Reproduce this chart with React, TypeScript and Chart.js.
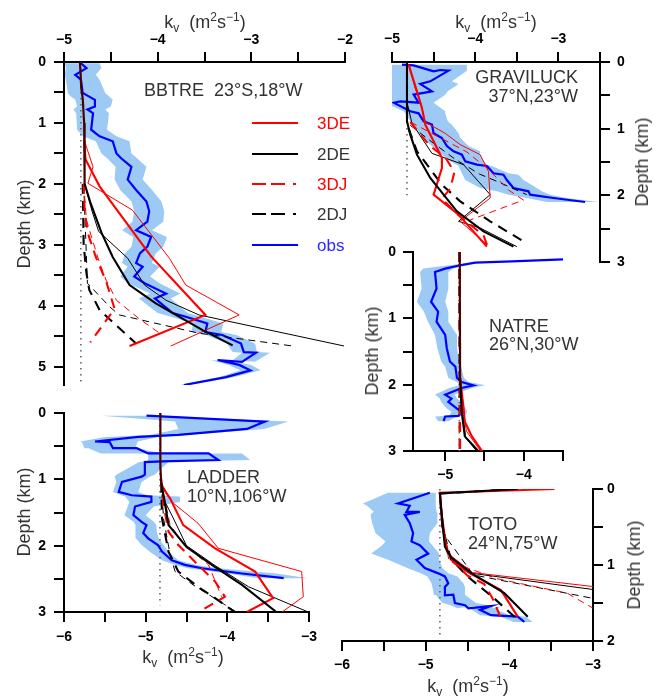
import React, { useEffect, useRef } from 'react';
import { Chart, registerables } from 'chart.js';
Chart.register(...registerables);

type Pt = [number, number]; // [log10 kv, depth km]

const W = 659;
const H = 696;
const AX = 40;
const FONT = '"Liberation Sans", Arial, Helvetica, sans-serif';
const RED = '#ff0000';
const BLACK = '#000000';
const BLUE = '#0000ff';
const MAROON = '#4a0000';
const BAND = '#9dcaf5';
const DOT = '#666666';
const TXT = '#333333';

// ---------- tick values ----------
const bbtreXTicks = [-5, -4.5, -4, -3.5, -3, -2.5, -2];
const bbtreYTicks = [0, 0.5, 1, 1.5, 2, 2.5, 3, 3.5, 4, 4.5, 5];
const gravXTicks = [-5, -4.5, -4, -3.5, -3, -2.5];
const gravYTicks = [0, 0.5, 1, 1.5, 2, 2.5, 3];
const natreXTicks = [-5, -4.5, -4, -3.5];
const natreYTicks = [0, 0.5, 1, 1.5, 2, 2.5, 3];
const ladderXTicks = [-6, -5.5, -5, -4.5, -4, -3.5, -3];
const ladderYTicks = [0, 0.5, 1, 1.5, 2, 2.5, 3];
const totoXTicks = [-6, -5.5, -5, -4.5, -4, -3.5, -3];
const totoYTicks = [0, 0.5, 1, 1.5, 2];

// ---------- BBTRE ----------
const bbtreObs: Pt[] = [[-4.82,0.02],[-4.76,0.10],[-4.88,0.21],[-4.82,0.29],[-4.80,0.51],[-4.74,0.56],[-4.67,0.62],[-4.67,0.73],[-4.75,0.78],[-4.69,0.84],[-4.71,1.11],[-4.62,1.22],[-4.48,1.30],[-4.44,1.50],[-4.39,1.58],[-4.28,1.72],[-4.32,1.93],[-4.23,2.10],[-4.12,2.29],[-4.09,2.45],[-4.11,2.62],[-4.23,2.76],[-4.07,2.87],[-4.11,3.03],[-4.19,3.14],[-4.23,3.30],[-4.16,3.36],[-4.25,3.52],[-4.14,3.63],[-3.91,3.80],[-4.03,3.88],[-3.84,4.12],[-3.70,4.18],[-3.47,4.29],[-3.49,4.43],[-3.31,4.48],[-3.11,4.62],[-3.08,4.76],[-2.95,4.77],[-3.10,4.92],[-3.36,4.89],[-3.13,4.97],[-3.01,5.06],[-3.27,5.17],[-3.72,5.30]];
const bbtreObsLo = [-4.99,-4.98,-4.99,-4.98,-4.96,-4.93,-4.88,-4.86,-4.90,-4.87,-4.86,-4.80,-4.66,-4.60,-4.54,-4.45,-4.46,-4.40,-4.28,-4.25,-4.27,-4.38,-4.26,-4.28,-4.35,-4.38,-4.32,-4.40,-4.32,-4.08,-4.20,-4.00,-3.86,-3.62,-3.64,-3.48,-3.26,-3.20,-3.10,-3.22,-3.44,-3.24,-3.12,-3.34,-3.76];
const bbtreObsHi = [-4.62,-4.60,-4.66,-4.62,-4.56,-4.52,-4.48,-4.50,-4.56,-4.52,-4.54,-4.44,-4.30,-4.28,-4.22,-4.12,-4.16,-4.06,-3.96,-3.93,-3.94,-4.06,-3.90,-3.94,-4.02,-4.06,-3.98,-4.08,-3.98,-3.76,-3.86,-3.68,-3.54,-3.30,-3.32,-3.16,-2.96,-2.94,-2.80,-2.96,-3.26,-3.00,-2.90,-3.18,-3.66];
const bbtreBg: Pt[] = [[-4.82,0],[-4.82,5.3]];
const bbtreCommon: Pt[] = [[-4.83,0],[-4.815,0.44],[-4.80,0.6],[-4.785,1.0],[-4.78,2.0]];
const bbtre3DEThick: Pt[] = [[-4.785,1.28],[-4.77,1.6],[-4.62,2.04],[-4.07,3.19],[-3.49,4.15],[-4.30,4.66]];
const bbtre3DEThin: Pt[] = [[-4.785,1.28],[-4.69,1.72],[-4.745,1.99],[-4.27,2.43],[-3.875,3.22],[-3.70,3.66],[-3.13,4.15],[-3.86,4.66]];
const bbtre2DEThick: Pt[] = [[-4.78,2.0],[-4.72,2.3],[-4.60,2.8],[-4.48,3.2],[-4.30,3.66],[-4.02,3.96],[-3.52,4.40],[-3.20,4.65]];
const bbtre2DEThin: Pt[] = [[-4.78,2.0],[-4.70,2.45],[-4.63,2.78],[-4.32,3.22],[-4.14,3.66],[-3.91,3.91],[-3.56,4.15],[-2.01,4.66]];
const bbtre3DJThick: Pt[] = [[-4.79,2.0],[-4.78,2.43],[-4.745,2.81],[-4.66,3.2],[-4.55,3.6],[-4.46,4.05],[-4.72,4.6]];
const bbtre3DJThin: Pt[] = [[-4.79,2.0],[-4.76,2.6],[-4.62,3.3],[-4.55,3.58],[-4.44,3.91],[-4.20,4.21],[-3.98,4.45]];
const bbtre2DJThick: Pt[] = [[-4.80,2.0],[-4.79,3.0],[-4.76,3.47],[-4.73,3.74],[-4.62,4.07],[-4.23,4.62]];
const bbtre2DJThin: Pt[] = [[-4.79,2.0],[-4.75,3.63],[-4.51,4.02],[-4.41,4.15],[-3.56,4.45],[-2.56,4.66]];

// ---------- GRAVILUCK ----------
const gravObs: Pt[] = [[-4.88,0.04],[-4.74,0.05],[-4.50,0.14],[-4.42,0.12],[-4.32,0.13],[-4.54,0.29],[-4.66,0.33],[-4.52,0.44],[-4.74,0.49],[-4.68,0.61],[-4.90,0.59],[-4.98,0.61],[-4.78,0.74],[-4.68,0.77],[-4.62,0.89],[-4.52,0.94],[-4.50,1.07],[-4.40,1.14],[-4.34,1.26],[-4.26,1.34],[-4.16,1.39],[-4.12,1.49],[-3.98,1.54],[-3.86,1.56],[-3.78,1.67],[-3.66,1.69],[-3.62,1.77],[-3.54,1.89],[-3.36,1.94],[-3.34,1.99],[-3.06,2.04],[-2.68,2.10]];
const gravObsLo = [-5.1,-5.1,-5.1,-5.1,-5.1,-5.1,-5.1,-5.1,-5.1,-5.1,-5.1,-5.1,-4.86,-4.84,-4.78,-4.74,-4.68,-4.62,-4.52,-4.45,-4.40,-4.30,-4.22,-4.20,-4.16,-4.15,-4.12,-3.94,-3.74,-3.60,-3.38,-3.14];
const gravObsHi = [-4.10,-4.10,-4.10,-4.10,-4.10,-4.28,-4.20,-4.33,-4.36,-4.50,-4.50,-4.50,-4.36,-4.36,-4.33,-4.28,-4.20,-4.18,-4.08,-3.94,-3.94,-3.90,-3.86,-3.80,-3.60,-3.48,-3.42,-3.26,-3.20,-3.10,-2.90,-2.52];
const gravBg: Pt[] = [[-4.82,0],[-4.82,2.0]];
const grav3DEThick: Pt[] = [[-4.80,0.04],[-4.70,0.44],[-4.64,0.69],[-4.60,0.94],[-4.50,1.19],[-4.40,1.44],[-4.40,1.59],[-4.50,1.99],[-4.20,2.29],[-3.86,2.77]];
const grav3DEThin: Pt[] = [[-4.80,0.04],[-4.72,0.40],[-4.66,0.59],[-4.60,0.90],[-4.36,1.07],[-4.18,1.24],[-3.94,1.39],[-3.84,1.64],[-3.82,2.04],[-4.18,2.39],[-3.86,2.74]];
const grav2DEThick: Pt[] = [[-4.82,0.0],[-4.82,0.89],[-4.78,1.09],[-4.70,1.39],[-4.54,1.74],[-4.22,2.24],[-3.90,2.54],[-3.54,2.77]];
const grav2DEThin: Pt[] = [[-4.82,0.6],[-4.76,0.92],[-4.52,1.37],[-4.14,1.54],[-3.82,1.99],[-4.20,2.39],[-3.94,2.49],[-3.50,2.77]];
const grav3DJThick: Pt[] = [[-4.78,0.9],[-4.55,1.25],[-4.35,1.45],[-4.25,1.65],[-4.30,1.90],[-4.40,2.05],[-4.20,2.30],[-3.90,2.60],[-3.85,2.77]];
const grav3DJThin: Pt[] = [[-4.78,0.9],[-4.40,1.15],[-4.10,1.35],[-3.85,1.60],[-3.60,1.92],[-3.42,2.07],[-4.06,2.37]];
const grav2DJThick: Pt[] = [[-4.80,1.0],[-4.70,1.34],[-4.40,1.84],[-4.18,2.09],[-3.82,2.39],[-3.38,2.72]];
const grav2DJThin: Pt[] = [[-4.78,0.95],[-4.52,1.20],[-4.25,1.45],[-3.95,1.68],[-3.72,1.80],[-3.38,1.99]];

// ---------- NATRE ----------
const natreObs: Pt[] = [[-3.50,0.11],[-4.15,0.14],[-4.62,0.16],[-4.81,0.20],[-5.00,0.25],[-5.13,0.30],[-5.11,0.55],[-5.18,0.75],[-5.09,0.90],[-5.11,1.05],[-5.00,1.25],[-4.98,1.45],[-4.94,1.65],[-4.87,1.73],[-4.85,1.90],[-4.79,1.96],[-4.64,2.01],[-4.79,2.05],[-5.00,2.15],[-4.92,2.21],[-4.96,2.26],[-4.85,2.36],[-4.79,2.41],[-4.83,2.47],[-5.00,2.48],[-5.02,2.55]];
const natreObsLo = [-3.50,-4.15,-4.66,-4.95,-5.28,-5.32,-5.30,-5.36,-5.27,-5.22,-5.13,-5.10,-5.05,-5.00,-4.96,-4.85,-4.82,-4.95,-5.13,-5.07,-5.05,-4.98,-4.92,-4.95,-5.13,-5.09];
const natreObsHi = [-3.50,-4.15,-4.58,-4.70,-4.90,-4.96,-4.96,-5.00,-4.96,-4.96,-4.85,-4.85,-4.82,-4.80,-4.76,-4.70,-4.49,-4.66,-4.88,-4.85,-4.79,-4.74,-4.72,-4.75,-4.85,-4.96];
const natreBg: Pt[] = [[-4.82,0],[-4.82,3.0]];
const natreCommon: Pt[] = [[-4.815,0],[-4.81,2.0]];
const natre3DEThick: Pt[] = [[-4.81,1.9],[-4.77,2.31],[-4.75,2.56],[-4.66,2.78],[-4.53,3.0]];
const natre3DEThin: Pt[] = [[-4.81,1.9],[-4.78,2.31],[-4.73,2.70],[-4.55,3.0]];
const natre2DEThick: Pt[] = [[-4.81,1.9],[-4.79,2.41],[-4.75,2.78],[-4.58,3.0]];
const natre2DEThin: Pt[] = [[-4.81,1.9],[-4.78,2.41],[-4.74,2.80],[-4.60,3.0]];
const natre3DJThick: Pt[] = [[-4.815,0],[-4.81,3.0]];
const natre2DJThick: Pt[] = [[-4.82,0],[-4.815,3.0]];

// ---------- LADDER ----------
const ladderObs: Pt[] = [[-4.99,0.04],[-3.54,0.13],[-3.76,0.24],[-4.60,0.33],[-5.09,0.36],[-5.62,0.43],[-5.44,0.44],[-5.40,0.53],[-5.11,0.53],[-4.97,0.61],[-4.23,0.61],[-4.11,0.71],[-4.80,0.73],[-5.01,0.74],[-5.01,0.93],[-5.05,0.96],[-5.29,1.04],[-5.33,1.19],[-5.17,1.24],[-4.93,1.26],[-4.93,1.34],[-5.13,1.41],[-5.15,1.54],[-5.05,1.64],[-4.99,1.69],[-5.03,1.81],[-4.97,1.89],[-4.85,1.99],[-4.80,2.09],[-4.68,2.22],[-4.52,2.29],[-4.31,2.34],[-3.82,2.42],[-3.31,2.49]];
const ladderObsLo = [-5.54,-4.64,-4.60,-4.95,-5.50,-5.80,-5.78,-5.75,-5.70,-5.55,-4.97,-4.97,-5.00,-5.08,-5.36,-5.38,-5.36,-5.40,-5.30,-5.25,-5.20,-5.22,-5.26,-5.15,-5.13,-5.12,-5.12,-5.05,-4.95,-4.80,-4.64,-4.48,-4.00,-3.62];
const ladderObsHi = [-4.95,-3.25,-3.55,-4.50,-4.85,-5.10,-5.10,-5.13,-5.10,-4.80,-3.82,-3.72,-4.70,-4.72,-4.89,-4.95,-5.05,-5.09,-4.98,-4.58,-4.58,-4.90,-5.00,-4.90,-4.87,-4.86,-4.84,-4.78,-4.72,-4.60,-4.38,-4.10,-3.40,-3.01];
const ladderBg: Pt[] = [[-4.825,0],[-4.825,2.9]];
const ladderCommon: Pt[] = [[-4.82,0],[-4.82,0.8],[-4.81,1.05]];
const ladder3DEThick: Pt[] = [[-4.81,1.05],[-4.81,1.09],[-4.70,1.29],[-4.54,1.69],[-4.15,2.04],[-3.66,2.39],[-3.44,2.79],[-3.76,3.0]];
const ladder3DEThin: Pt[] = [[-4.81,1.05],[-4.68,1.34],[-4.36,1.66],[-4.11,2.04],[-3.09,2.39],[-3.07,2.77],[-3.33,3.0]];
const ladder2DEThick: Pt[] = [[-4.81,1.05],[-4.76,1.39],[-4.72,1.69],[-4.50,2.02],[-4.19,2.29],[-3.82,2.59],[-3.40,3.0]];
const ladder2DEThin: Pt[] = [[-4.81,1.05],[-4.78,1.30],[-4.68,1.54],[-4.50,2.0],[-4.15,2.30],[-3.74,2.62],[-3.01,3.0]];
const ladder3DJThick: Pt[] = [[-4.81,1.0],[-4.78,1.39],[-4.72,1.79],[-4.60,1.99],[-4.40,2.24],[-4.15,2.54],[-4.03,2.77],[-4.31,2.97]];
const ladder3DJThin: Pt[] = [[-4.81,1.05],[-4.70,1.69],[-4.52,1.99],[-4.23,2.29],[-4.07,2.77]];
const ladder2DJThick: Pt[] = [[-4.81,1.05],[-4.80,1.59],[-4.72,2.09],[-4.60,2.39],[-4.36,2.62],[-4.15,2.79],[-3.91,3.0]];
const ladder2DJThin: Pt[] = [[-4.81,1.05],[-4.78,1.60],[-4.70,2.14],[-4.64,2.39],[-4.42,2.59],[-4.03,2.89],[-3.89,3.0]];

// ---------- TOTO ----------
const totoObs: Pt[] = [[-4.95,0.05],[-5.33,0.19],[-5.19,0.22],[-5.23,0.30],[-5.07,0.30],[-5.25,0.34],[-5.19,0.45],[-5.15,0.58],[-5.17,0.69],[-5.07,0.74],[-4.97,0.85],[-5.11,0.93],[-5.01,1.04],[-4.85,1.11],[-4.77,1.15],[-4.73,1.24],[-4.77,1.29],[-4.77,1.40],[-4.67,1.39],[-4.65,1.50],[-4.53,1.53],[-4.49,1.57],[-4.22,1.54],[-4.35,1.59],[-4.22,1.66],[-3.90,1.68],[-3.82,1.75]];
const totoObsLo = [-5.45,-5.75,-5.70,-5.62,-5.62,-5.66,-5.64,-5.60,-5.48,-5.52,-5.65,-5.45,-5.22,-5.06,-4.98,-4.93,-4.92,-4.90,-4.88,-4.80,-4.70,-4.62,-4.40,-4.45,-4.35,-4.10,-3.95];
const totoObsHi = [-4.88,-4.88,-4.88,-4.87,-4.86,-4.86,-4.86,-4.95,-4.96,-4.92,-4.84,-4.84,-4.80,-4.73,-4.62,-4.55,-4.53,-4.53,-4.53,-4.40,-4.25,-4.18,-4.10,-4.15,-4.00,-3.80,-3.72];
const totoBg: Pt[] = [[-4.83,0],[-4.83,1.95]];
const toto3DEThick: Pt[] = [[-3.46,0],[-4.83,0.05],[-4.81,0.32],[-4.75,0.80],[-4.65,0.98],[-4.47,1.11],[-4.10,1.33],[-3.90,1.68]];
const toto2DEThick: Pt[] = [[-3.90,0],[-4.83,0.06],[-4.81,0.32],[-4.77,0.76],[-4.69,0.91],[-4.45,1.11],[-4.06,1.37],[-3.78,1.68]];
const toto3DEThin: Pt[] = [[-4.83,0.05],[-4.79,0.50],[-4.73,0.85],[-4.44,1.10],[-2.95,1.29]];
const toto2DEThin: Pt[] = [[-4.83,0.05],[-4.80,0.50],[-4.74,0.85],[-4.44,1.11],[-2.95,1.33]];
const toto3DJThick: Pt[] = [[-4.83,0.05],[-4.80,0.50],[-4.72,0.90],[-4.50,1.14],[-4.30,1.25],[-4.20,1.44],[-4.10,1.70]];
const toto2DJThick: Pt[] = [[-3.90,0],[-4.83,0.06],[-4.80,0.50],[-4.70,0.92],[-4.50,1.15],[-4.18,1.44],[-3.90,1.72]];
const toto3DJThin: Pt[] = [[-4.83,0.05],[-4.78,0.60],[-4.72,0.95],[-4.15,1.18],[-3.31,1.37],[-2.95,1.60]];
const toto2DJThin: Pt[] = [[-4.83,0.05],[-4.78,0.60],[-4.43,1.13],[-2.95,1.45]];

// ---------- styling helpers ----------
type Kind = '3DE' | '2DE' | '3DJ' | '2DJ';
interface ModelLine { pts: Pt[]; kind: Kind; thick: boolean }
const m = (pts: Pt[], kind: Kind, thick: boolean): ModelLine => ({ pts, kind, thick });

interface PanelDef {
  key: string;
  area: [number, number, number, number];
  xMin: number; xMax: number; yMax: number;
  xPos: 'top' | 'bottom'; yPos: 'left' | 'right';
  xTicks: number[]; yTicks: number[];
  xPad: number; yPad: number;
  obs: Pt[]; lo: number[]; hi: number[];
  bg: Pt[]; common?: Pt[];
  models: ModelLine[];
}

const panels: PanelDef[] = [
  {
    key: 'bbtre', area: [64, 62, 345, 385], xMin: -5, xMax: -2, yMax: 5.3, xPos: 'top', yPos: 'left',
    xTicks: bbtreXTicks, yTicks: bbtreYTicks, xPad: 3, yPad: 8,
    obs: bbtreObs, lo: bbtreObsLo, hi: bbtreObsHi, bg: bbtreBg, common: bbtreCommon,
    models: [m(bbtre2DJThin, '2DJ', false), m(bbtre3DJThin, '3DJ', false), m(bbtre2DEThin, '2DE', false), m(bbtre3DEThin, '3DE', false),
      m(bbtre2DJThick, '2DJ', true), m(bbtre3DJThick, '3DJ', true), m(bbtre3DEThick, '3DE', true), m(bbtre2DEThick, '2DE', true)],
  },
  {
    key: 'grav', area: [392, 62, 600, 262], xMin: -5, xMax: -2.5, yMax: 3, xPos: 'top', yPos: 'right',
    xTicks: gravXTicks, yTicks: gravYTicks, xPad: 4, yPad: 7,
    obs: gravObs, lo: gravObsLo, hi: gravObsHi, bg: gravBg,
    models: [m(grav2DJThin, '2DJ', false), m(grav3DJThin, '3DJ', false), m(grav2DEThin, '2DE', false), m(grav3DEThin, '3DE', false),
      m(grav2DJThick, '2DJ', true), m(grav3DJThick, '3DJ', true), m(grav3DEThick, '3DE', true), m(grav2DEThick, '2DE', true)],
  },
  {
    key: 'natre', area: [413, 252, 563, 451], xMin: -5.41, xMax: -3.5, yMax: 3, xPos: 'bottom', yPos: 'left',
    xTicks: natreXTicks, yTicks: natreYTicks, xPad: 6, yPad: 7,
    obs: natreObs, lo: natreObsLo, hi: natreObsHi, bg: natreBg, common: natreCommon,
    models: [m(natre2DEThin, '2DE', false), m(natre3DEThin, '3DE', false),
      m(natre2DJThick, '2DJ', true), m(natre3DJThick, '3DJ', true), m(natre3DEThick, '3DE', true), m(natre2DEThick, '2DE', true)],
  },
  {
    key: 'ladder', area: [64, 413, 309, 612], xMin: -6, xMax: -3, yMax: 3, xPos: 'bottom', yPos: 'left',
    xTicks: ladderXTicks, yTicks: ladderYTicks, xPad: 7, yPad: 8,
    obs: ladderObs, lo: ladderObsLo, hi: ladderObsHi, bg: ladderBg, common: ladderCommon,
    models: [m(ladder2DJThin, '2DJ', false), m(ladder3DJThin, '3DJ', false), m(ladder2DEThin, '2DE', false), m(ladder3DEThin, '3DE', false),
      m(ladder2DJThick, '2DJ', true), m(ladder3DJThick, '3DJ', true), m(ladder3DEThick, '3DE', true), m(ladder2DEThick, '2DE', true)],
  },
  {
    key: 'toto', area: [342, 489, 593, 641], xMin: -6, xMax: -3, yMax: 2, xPos: 'bottom', yPos: 'right',
    xTicks: totoXTicks, yTicks: totoYTicks, xPad: 6, yPad: 4,
    obs: totoObs, lo: totoObsLo, hi: totoObsHi, bg: totoBg,
    models: [m(toto2DJThin, '2DJ', false), m(toto3DJThin, '3DJ', false), m(toto2DEThin, '2DE', false), m(toto3DEThin, '3DE', false),
      m(toto2DJThick, '2DJ', true), m(toto3DJThick, '3DJ', true), m(toto3DEThick, '3DE', true), m(toto2DEThick, '2DE', true)],
  },
];

const fmt = (v: number) => {
  const r = Math.round(v);
  if (Math.abs(v - r) > 1e-6) return '';
  return r < 0 ? '\u2212' + Math.abs(r) : String(r);
};

const toXY = (pts: Pt[]) => pts.map((p) => ({ x: p[0], y: p[1] }));

function lineDs(pts: Pt[], color: string, width: number, dash: number[], order: number) {
  return {
    data: toXY(pts), borderColor: color, borderWidth: width, borderDash: dash,
    pointRadius: 0, pointHoverRadius: 0, fill: false, tension: 0, order,
    borderCapStyle: 'butt', borderJoinStyle: 'miter',
  };
}

function axis(ticksList: number[], pad: number, horizontal: boolean) {
  return {
    type: 'linear',
    grid: { drawOnChartArea: false, drawTicks: true, tickLength: 10, lineWidth: 2, color: '#000', tickColor: '#000', tickWidth: 2 },
    border: { display: true, color: '#000', width: 2 },
    ticks: {
      autoSkip: false, maxRotation: 0, minRotation: 0, padding: pad, color: '#000',
      font: { family: FONT, size: 14, weight: 'bold' },
      callback: (v: any) => fmt(Number(v)),
    },
    afterBuildTicks: (s: any) => { s.ticks = ticksList.map((v) => ({ value: v })); },
    afterFit: (s: any) => {
      if (horizontal) s.height = AX; else s.width = AX;
      s.paddingLeft = 0; s.paddingRight = 0; s.paddingTop = 0; s.paddingBottom = 0;
    },
  };
}

function buildConfig(p: PanelDef): any {
  const [l, t, r, b] = p.area;
  const padding = {
    left: l - (p.yPos === 'left' ? AX : 0),
    right: W - r - (p.yPos === 'right' ? AX : 0),
    top: t - (p.xPos === 'top' ? AX : 0),
    bottom: H - b - (p.xPos === 'bottom' ? AX : 0),
  };
  const bandPts = [
    ...p.obs.map((o, i) => ({ x: p.hi[i], y: o[1] })),
    ...p.obs.map((o, i) => ({ x: p.lo[i], y: o[1] })).reverse(),
  ];
  const datasets: any[] = [];
  datasets.push({
    data: bandPts, borderColor: 'rgba(0,0,0,0)', borderWidth: 0, backgroundColor: BAND,
    fill: 'shape', pointRadius: 0, tension: 0, order: 100,
  });
  datasets.push(lineDs(p.bg, DOT, 1.6, [1.6, 4.4], 90));
  datasets.push(lineDs(p.obs, BLUE, 2.2, [], 80));
  p.models.forEach((md, i) => {
    const color = md.kind[0] === '3' ? RED : BLACK;
    const dashed = md.kind[2] === 'J';
    const dash = dashed ? (md.thick ? [10, 7] : [7, 5]) : [];
    datasets.push(lineDs(md.pts, color, md.thick ? 2.1 : 1, dash, 50 - i));
  });
  if (p.common) datasets.push(lineDs(p.common, MAROON, 2.2, [], 1));

  const xAxis: any = axis(p.xTicks, p.xPad, true);
  xAxis.position = p.xPos; xAxis.min = p.xMin; xAxis.max = p.xMax;
  const yAxis: any = axis(p.yTicks, p.yPad, false);
  yAxis.position = p.yPos; yAxis.min = 0; yAxis.max = p.yMax; yAxis.reverse = true;

  return {
    type: 'line',
    data: { datasets },
    options: {
      animation: false, responsive: false, maintainAspectRatio: false, events: [],
      layout: { padding, autoPadding: false },
      plugins: { legend: { display: false }, tooltip: { enabled: false }, filler: { propagate: false } },
      scales: { x: xAxis, y: yAxis },
    },
  };
}

function PanelCanvas({ def }: { def: PanelDef }) {
  const ref = useRef<HTMLCanvasElement>(null);
  useEffect(() => {
    const c = ref.current;
    if (!c) return;
    const chart = new Chart(c, buildConfig(def));
    return () => chart.destroy();
  }, [def]);
  return (
    <canvas ref={ref} width={W} height={H}
      style={{ position: 'absolute', left: 0, top: 0, width: W, height: H, pointerEvents: 'none' }} />
  );
}

const baseText: React.CSSProperties = { position: 'absolute', whiteSpace: 'pre', lineHeight: 1, fontFamily: FONT };

function KvTitle({ x, y }: { x: number; y: number }) {
  const sup: React.CSSProperties = { fontSize: 12, verticalAlign: '7px', lineHeight: 0 };
  const sub: React.CSSProperties = { fontSize: 12, verticalAlign: '-4px', lineHeight: 0 };
  return (
    <div style={{ ...baseText, left: x, top: y, transform: 'translate(-50%,-50%)', fontSize: 18, color: TXT }}>
      k<span style={sub}>v</span>{'  '}(m<span style={sup}>2</span>s<span style={sup}>{'\u2212'}1</span>)
    </div>
  );
}

function DepthTitle({ x, y }: { x: number; y: number }) {
  return (
    <div style={{ ...baseText, left: x, top: y, transform: 'translate(-50%,-50%) rotate(-90deg)', fontSize: 18, color: TXT }}>
      Depth (km)
    </div>
  );
}

function Label({ x, y, text, right }: { x: number; y: number; text: string; right?: boolean }) {
  return (
    <div style={{ ...baseText, left: x, top: y, transform: right ? 'translate(-100%,-50%)' : 'translate(0,-50%)', fontSize: 18, color: TXT }}>
      {text}
    </div>
  );
}

const legendItems = [
  { label: '3DE', color: RED, dashed: false, y: 123 },
  { label: '2DE', color: BLACK, dashed: false, y: 154 },
  { label: '3DJ', color: RED, dashed: true, y: 184 },
  { label: '2DJ', color: BLACK, dashed: true, y: 214 },
  { label: 'obs', color: BLUE, dashed: false, y: 245 },
];

function Legend() {
  return (
    <>
      <svg width={60} height={160} style={{ position: 'absolute', left: 250, top: 110 }}>
        {legendItems.map((it) => (
          <line key={it.label} x1={2} x2={48} y1={it.y - 110} y2={it.y - 110} stroke={it.color} strokeWidth={2.1}
            strokeDasharray={it.dashed ? '14 5 14 8 3 100' : undefined} />
        ))}
      </svg>
      {legendItems.map((it) => (
        <div key={'t' + it.label} style={{ ...baseText, left: 317, top: it.y, transform: 'translate(0,-50%)', fontSize: 17,
          color: it.color === BLACK ? TXT : it.color === BLUE ? '#2a2aff' : RED }}>
          {it.label}
        </div>
      ))}
    </>
  );
}

export default function App() {
  useEffect(() => {
    document.body.style.margin = '0';
  }, []);
  return (
    <div style={{ position: 'relative', width: W, height: H, overflow: 'hidden', background: '#fff', fontFamily: FONT }}>
      {panels.map((p) => <PanelCanvas key={p.key} def={p} />)}
      <KvTitle x={205} y={22} />
      <KvTitle x={496} y={22} />
      <KvTitle x={183} y={657} />
      <KvTitle x={468} y={686} />
      <DepthTitle x={24} y={224} />
      <DepthTitle x={642} y={162} />
      <DepthTitle x={372} y={351} />
      <DepthTitle x={24} y={512} />
      <DepthTitle x={634} y={565} />
      <Label x={144} y={90} text={'BBTRE  23\u00b0S,18\u00b0W'} />
      <Label x={578} y={77} text="GRAVILUCK" right />
      <Label x={578} y={96} text={'37\u00b0N,23\u00b0W'} right />
      <Label x={489} y={326} text="NATRE" />
      <Label x={489} y={344} text={'26\u00b0N,30\u00b0W'} />
      <Label x={187} y={477} text="LADDER" />
      <Label x={187} y={496} text={'10\u00b0N,106\u00b0W'} />
      <Label x={468} y={524} text="TOTO" />
      <Label x={468} y={543} text={'24\u00b0N,75\u00b0W'} />
      <Legend />
    </div>
  );
}
